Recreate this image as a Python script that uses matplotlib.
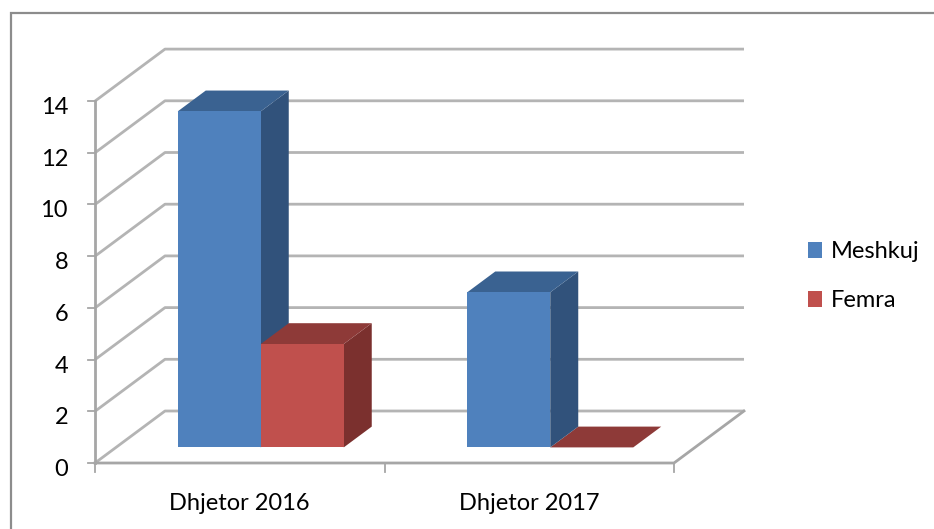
import matplotlib
matplotlib.use("Agg")
import matplotlib.pyplot as plt
from matplotlib.patches import Polygon, Patch, Rectangle

categories = ["Dhjetor 2016", "Dhjetor 2017"]
series_names = ["Meshkuj", "Femra"]
meshkuj = [13, 6]
femra = [4, 0]
yticks = [0, 2, 4, 6, 8, 10, 12, 14]

W, H = 934, 529
PX_X = 289.5      # pixels per category
PX_Y = 25.85      # pixels per value unit
X0, Y0 = 95, 463  # pixel position of the origin

plt.rcParams['font.family'] = ['Lato', 'DejaVu Sans']
fig = plt.figure(figsize=(W / 100, H / 100), dpi=100)
ax = fig.add_axes([0, 0, 1, 1])
ax.set_xlim(-X0 / PX_X, (W - X0) / PX_X)
ax.set_ylim(-(H - Y0) / PX_Y, Y0 / PX_Y)
ax.axis("off")

DX = 70 / PX_X    # full depth offset
DY = 52 / PX_Y
GRID = "#b4b4b4"
AXIS = "#a6a6a6"
FS = 17
n = len(categories)


def proj(x, v, d):
    return x + d * DX, v + d * DY


# outer chart frame
ax.add_patch(Rectangle((-84 / PX_X, -(H - Y0 + 5) / PX_Y), (W + 20) / PX_X, (H - 13 + 5) / PX_Y,
                       fill=False, ec="#8c8c8c", lw=1.6, zorder=1))

# gridlines on side and back walls
for v in yticks:
    xs = [0, proj(0, v, 1)[0], proj(n, v, 1)[0]]
    ys = [v, proj(0, v, 1)[1], proj(n, v, 1)[1]]
    ax.plot(xs, ys, color=GRID, lw=2.0, zorder=2, solid_capstyle="butt", solid_joinstyle="round")
    ax.plot([-7 / PX_X, 0], [v, v], color=AXIS, lw=1.3, zorder=3)
    ax.text(-27 / PX_X, v - 0.25, str(v), ha="right", va="center", fontsize=FS, color="black", zorder=6)

# floor and axes
ax.plot([0, n, proj(n, 0, 1)[0]], [0, 0, proj(n, 0, 1)[1]], color=AXIS, lw=2.0, zorder=3)
ax.plot([0, 0], [0, yticks[-1]], color=AXIS, lw=2.0, zorder=3)
for i in range(n + 1):
    ax.plot([i, i], [0, -9 / PX_Y], color=AXIS, lw=1.3, zorder=3)
for i, c in enumerate(categories):
    ax.text(i + 0.5, -40 / PX_Y, c, ha="center", va="center", fontsize=FS, color="black", zorder=6)

BAR_W = 83 / PX_X
D0, D1 = 0.30, 0.70
COLORS = {
    "Meshkuj": ("#4f81bd", "#3a6291", "#31527b"),
    "Femra": ("#c0504d", "#8e3a38", "#7b302e"),
}


def bar3d(x_left, value, cols, z):
    front, top, side = cols
    x_right = x_left + BAR_W
    a = proj(x_left, 0, D0)
    b = proj(x_right, 0, D0)
    c = proj(x_right, value, D0)
    d = proj(x_left, value, D0)
    e = proj(x_left, value, D1)
    f = proj(x_right, value, D1)
    g = proj(x_right, 0, D1)
    ax.add_patch(Polygon([b, g, f, c], closed=True, fc=side, ec="none", zorder=z))
    ax.add_patch(Polygon([d, c, f, e], closed=True, fc=top, ec="none", zorder=z))
    if value > 0:
        ax.add_patch(Polygon([a, b, c, d], closed=True, fc=front, ec="none", zorder=z))


for i in range(n):
    center = i + 0.5
    bar3d(center - BAR_W, meshkuj[i], COLORS["Meshkuj"], 4)
    bar3d(center, femra[i], COLORS["Femra"], 5 if femra[i] > 0 else 3.5)

handles = [Patch(fc=COLORS[s][0], ec="none", label=s) for s in series_names]
leg = ax.legend(handles=handles, loc="center left",
                bbox_to_anchor=(801 / W, 1 - 276 / H), frameon=False,
                fontsize=FS, handlelength=0.6, handleheight=0.68,
                handletextpad=0.38, labelspacing=1.18, borderpad=0.3, borderaxespad=0)
fig.savefig("out.png", dpi=100, facecolor="white")
